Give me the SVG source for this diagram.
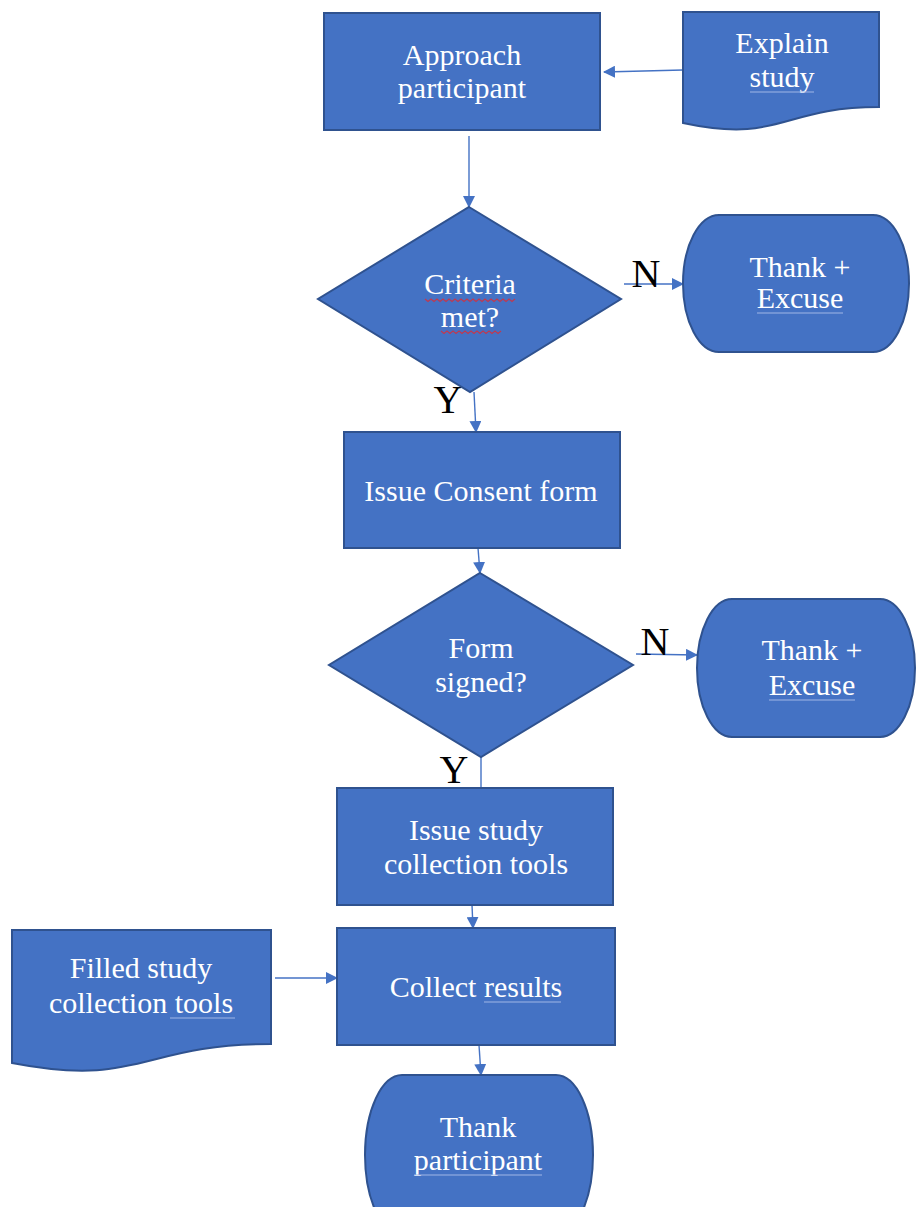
<svg xmlns="http://www.w3.org/2000/svg" width="916" height="1207" viewBox="0 0 916 1207">
<defs>
<style>
.shape{fill:#4472C4;stroke:#2F528F;stroke-width:2}
.lbl{font-family:"Liberation Serif","Times New Roman",serif;font-size:30px;fill:#ffffff;text-anchor:middle}
.yn{font-family:"Liberation Serif","Times New Roman",serif;font-size:40px;fill:#000000;text-anchor:middle}
.conn{fill:none;stroke:#4472C4;stroke-width:1.4}
.gram{fill:none;stroke:#9fb6e6;stroke-width:1.2}
.spell{fill:none;stroke:#c0394f;stroke-width:1.1}
</style>
<marker id="ah" viewBox="0 0 12 12" refX="11" refY="6" markerWidth="12" markerHeight="12" markerUnits="userSpaceOnUse" orient="auto">
<path d="M0,0 L12,6 L0,12 Z" fill="#4472C4"/>
</marker>
</defs>
<rect width="916" height="1207" fill="#ffffff"/>

<g id="connectors">
<line class="conn" x1="683" y1="70" x2="604" y2="72" marker-end="url(#ah)"/>
<line class="conn" x1="469" y1="136" x2="469" y2="207" marker-end="url(#ah)"/>
<line class="conn" x1="624" y1="284" x2="683" y2="284" marker-end="url(#ah)"/>
<line class="conn" x1="474" y1="392" x2="476" y2="432" marker-end="url(#ah)"/>
<line class="conn" x1="478" y1="548" x2="480" y2="573" marker-end="url(#ah)"/>
<line class="conn" x1="636" y1="654" x2="697" y2="655" marker-end="url(#ah)"/>
<line class="conn" x1="481" y1="755" x2="481" y2="788"/>
<line class="conn" x1="472" y1="905" x2="473" y2="928" marker-end="url(#ah)"/>
<line class="conn" x1="275" y1="978" x2="337" y2="978" marker-end="url(#ah)"/>
<line class="conn" x1="479" y1="1045" x2="481" y2="1075" marker-end="url(#ah)"/>
<text class="yn" x="646" y="287">N</text>
<text class="yn" x="448" y="413">Y</text>
<text class="yn" x="655" y="655">N</text>
<text class="yn" x="454" y="783">Y</text>
</g>

<g id="approach">
<rect class="shape" x="324" y="13" width="276" height="117"/>
<text class="lbl" x="462" y="65">Approach</text>
<text class="lbl" x="462" y="98">participant</text>
</g>

<g id="explain">
<path class="shape" d="M683,12 H879 V107 C781,107 781,144 683,123 Z"/>
<text class="lbl" x="782" y="53">Explain</text>
<text class="lbl" x="782" y="87">study</text>
<line class="gram" x1="750" y1="92" x2="814" y2="92"/>
</g>

<g id="criteria">
<polygon class="shape" points="469,207 621,299 470,392 318,299"/>
<text class="lbl" x="470" y="294">Criteria</text>
<text class="lbl" x="470" y="327">met?</text>
<path class="spell" d="M425,299 l3,2.5 l3,-2.5 l3,2.5 l3,-2.5 l3,2.5 l3,-2.5 l3,2.5 l3,-2.5 l3,2.5 l3,-2.5 l3,2.5 l3,-2.5 l3,2.5 l3,-2.5 l3,2.5 l3,-2.5 l3,2.5 l3,-2.5 l3,2.5 l3,-2.5 l3,2.5 l3,-2.5 l3,2.5 l3,-2.5 l3,2.5 l3,-2.5 l3,2.5 l3,-2.5 l3,2.5 l3,-2.5"/>
<path class="spell" d="M441,331 l3,2.5 l3,-2.5 l3,2.5 l3,-2.5 l3,2.5 l3,-2.5 l3,2.5 l3,-2.5 l3,2.5 l3,-2.5 l3,2.5 l3,-2.5 l3,2.5 l3,-2.5 l3,2.5 l3,-2.5 l3,2.5 l3,-2.5 l3,2.5 l3,-2.5"/>
</g>

<g id="excuse1">
<path class="shape" d="M719,215 H873 A36,68.5 0 0 1 873,352 H719 A36,68.5 0 0 1 719,215 Z"/>
<text class="lbl" x="800" y="277">Thank +</text>
<text class="lbl" x="800" y="308">Excuse</text>
<line class="gram" x1="757" y1="313" x2="843" y2="313"/>
</g>

<g id="consent">
<rect class="shape" x="344" y="432" width="276" height="116"/>
<text class="lbl" x="481" y="501">Issue Consent form</text>
</g>

<g id="signed">
<polygon class="shape" points="480,573 633,665 481,757 329,665"/>
<text class="lbl" x="481" y="658">Form</text>
<text class="lbl" x="481" y="692">signed?</text>
</g>

<g id="excuse2">
<path class="shape" d="M732,599 H880 A35,69 0 0 1 880,737 H732 A35,69 0 0 1 732,599 Z"/>
<text class="lbl" x="812" y="660">Thank +</text>
<text class="lbl" x="812" y="695">Excuse</text>
<line class="gram" x1="769" y1="700" x2="855" y2="700"/>
</g>

<g id="tools">
<rect class="shape" x="337" y="788" width="276" height="117"/>
<text class="lbl" x="476" y="840">Issue study</text>
<text class="lbl" x="476" y="874">collection tools</text>
</g>

<g id="collect">
<rect class="shape" x="337" y="928" width="278" height="117"/>
<text class="lbl" x="476" y="997">Collect results</text>
<line class="gram" x1="484" y1="1002" x2="561" y2="1002"/>
</g>

<g id="filled">
<path class="shape" d="M12,930 H271 V1044 C141,1044 141,1088 12,1063 Z"/>
<text class="lbl" x="141" y="978">Filled study</text>
<text class="lbl" x="141" y="1013">collection tools</text>
<line class="gram" x1="170" y1="1018" x2="235" y2="1018"/>
</g>

<g id="thankparticipant">
<path class="shape" d="M402,1075 H556 A37,80 0 0 1 556,1235 H402 A37,80 0 0 1 402,1075 Z"/>
<text class="lbl" x="478" y="1137">Thank</text>
<text class="lbl" x="478" y="1170">participant</text>
<line class="gram" x1="414" y1="1175" x2="542" y2="1175"/>
</g>
</svg>
